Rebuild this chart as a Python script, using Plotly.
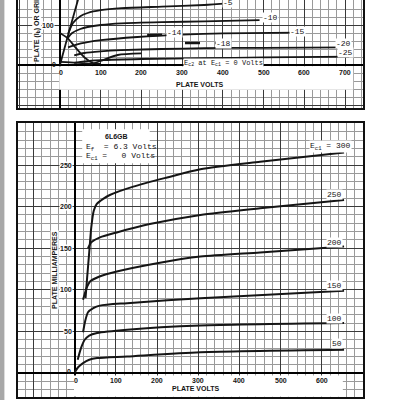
import plotly.graph_objects as go

# ---------------- data: upper panel (plate volts vs plate/screen mA) ----------------
top_ticks_v = [100, 200, 300, 400, 500, 600, 700]
top_ticks_ma = [100]

top_e0_v = [0, 20, 44, 52]
top_e0_ma = [0, 75, 162, 192]
top_m5_v = [20, 32, 50, 68, 100, 151, 250, 354, 413]
top_m5_ma = [78, 105, 122, 130, 137, 142, 146, 150, 154]
top_m10_v = [18, 30, 50, 68, 100, 151, 250, 354, 490]
top_m10_ma = [66, 80, 90, 95, 100, 104, 107, 109, 112]
top_m15_v = [20, 40, 68, 100, 190, 300, 400, 580]
top_m15_ma = [44, 51, 57, 62, 70, 76, 79, 81]
top_m20_v = [35, 60, 100, 150, 250, 354, 500, 710]
top_m20_ma = [24, 30, 34, 37, 40, 42, 43, 44]
top_m25_v = [35, 60, 100, 200, 354, 500, 710]
top_m25_ma = [5, 9, 12, 15, 17, 19, 21]
top_ic2_v = [0, 20, 37, 61, 81, 100]
top_ic2_ma = [80, 66, 45, 18, 5, 3]
top_ic2b_v = [75, 100, 142, 200]
top_ic2b_ma = [2, 10, 25, 29]
top_low_v = [0, 40, 80]
top_low_ma = [8, 6, 3]
top_dash14_v = [214, 270]
top_dash14_ma = [75, 76]
top_dash18_v = [307, 388]
top_dash18_ma = [55, 55]

# ---------------- data: lower panel (6L6GB, Ec1 = 0) ----------------
bot_ticks_v = [100, 200, 300, 400, 500, 600]
bot_ticks_ma = [50, 100, 150, 200, 250]

e300_v = [26, 30, 35, 40, 46, 53, 68, 85, 142, 224, 305, 450, 654]
e300_ma = [90, 115, 145, 175, 195, 203, 209, 214, 224, 235, 245, 254, 265]
e250_v = [32, 40, 61, 102, 182, 305, 450, 654]
e250_ma = [150, 157, 163, 169, 179, 190, 198, 208]
e200_v = [20, 24, 30, 37, 60, 102, 200, 305, 450, 654]
e200_ma = [88, 95, 104, 110, 116, 122, 132, 140, 145, 152]
e150_v = [20, 25, 32, 45, 61, 127, 305, 654]
e150_ma = [49, 62, 73, 78, 81, 84, 90, 99]
e100_v = [7, 15, 24, 35, 54, 127, 305, 654]
e100_ma = [16, 30, 40, 45, 48, 52, 57, 60]
e50_v = [0, 8, 20, 35, 54, 127, 305, 654]
e50_ma = [1, 7, 12, 16, 18, 20, 25, 28]

FONT = "Liberation Sans, Arial"
TYPE = "Liberation Mono, DejaVu Sans Mono, monospace"
INK = "#151515"

fig = go.Figure()

def curve(v, ma, xa, ya, dash=None, width=2.0):
    fig.add_trace(go.Scatter(
        x=v, y=ma, xaxis=xa, yaxis=ya, mode="lines",
        line=dict(color=INK, width=width, shape="spline", smoothing=0.7, dash=dash),
        hoverinfo="skip", showlegend=False))

for v, ma in [(top_e0_v, top_e0_ma), (top_m5_v, top_m5_ma), (top_m10_v, top_m10_ma),
              (top_m15_v, top_m15_ma), (top_m20_v, top_m20_ma), (top_m25_v, top_m25_ma),
              (top_ic2_v, top_ic2_ma), (top_ic2b_v, top_ic2b_ma), (top_low_v, top_low_ma)]:
    curve(v, ma, "x", "y", width=1.8)
curve(top_dash14_v, top_dash14_ma, "x", "y", dash="longdash", width=2.5)
curve(top_dash18_v, top_dash18_ma, "x", "y", dash="longdash", width=2.5)

for v, ma in [(e300_v, e300_ma), (e250_v, e250_ma), (e200_v, e200_ma),
              (e150_v, e150_ma), (e100_v, e100_ma), (e50_v, e50_ma)]:
    curve(v, ma, "x2", "y2", width=2.0)

def axis(domain, rng, dtick, mdtick, anchor, mirror):
    return dict(domain=domain, range=rng, anchor=anchor, dtick=dtick, tick0=0,
                showgrid=True, gridcolor="#3a3a3a", gridwidth=1.1,
                minor=dict(dtick=mdtick, tick0=0, showgrid=True, gridcolor="#9a9a9a", gridwidth=0.8),
                zeroline=True, zerolinecolor="#000", zerolinewidth=2,
                showticklabels=False, ticks="", showline=True, mirror=mirror,
                linecolor="#111", linewidth=1.5, fixedrange=True)

shapes = [
    dict(type="rect", xref="x", yref="y", x0=-2, x1=720, y0=-3, y1=-62,
         fillcolor="white", line=dict(width=0), layer="above"),
    dict(type="rect", xref="x2", yref="y2", x0=-2, x1=651, y0=-3, y1=-28.5,
         fillcolor="white", line=dict(width=0), layer="above"),
    dict(type="rect", xref="x2", yref="y2", x0=18, x1=182, y0=252, y1=293,
         fillcolor="white", line=dict(width=0), layer="above"),
    dict(type="rect", xref="paper", yref="paper", x0=0, x1=0.011, y0=0, y1=1,
         fillcolor="#a8a8a8", line=dict(width=0), layer="above"),
]

ann = []
def text(x, y, s, xa, ya, size=8, xanchor="center", yanchor="middle", font=FONT, bg=None, angle=0):
    d = dict(x=x, y=y, xref=xa, yref=ya, text=s, showarrow=False, xanchor=xanchor,
             yanchor=yanchor, textangle=angle, font=dict(family=font, size=size, color=INK))
    if bg:
        d["bgcolor"] = bg
        d["borderpad"] = 0
    ann.append(d)

# axis titles first so tick labels sit on top of them
text(-58, 6, "<b>PLATE (I<sub>b</sub>) OR GRID No.2 (I<sub>c2</sub>) MILLIAMPERES</b>", "x", "y",
     size=7, angle=-90, yanchor="bottom", bg="white")
text(-48, 124, "<b>PLATE MILLIAMPERES</b>", "x2", "y2", size=7, angle=-90, bg="white")
text(344, -47.5, "<b>PLATE VOLTS</b>", "x", "y", size=7)
text(294, -18.5, "<b>PLATE VOLTS</b>", "x2", "y2", size=7)

# upper panel tick labels
for t in top_ticks_v:
    text(t, -17.5, f"<b>{t}</b>", "x", "y", size=7)
text(3, -17.5, "<b>0</b>", "x", "y", size=7)
for t in top_ticks_ma:
    text(-11, t, f"<b>{t}</b>", "x", "y", size=7, xanchor="right", bg="white")
text(-4, 1, "<b>0</b>", "x", "y", size=7, xanchor="right")
for s, x, y in [("-5", 413, 157), ("-10", 516, 120), ("-14", 280, 82), ("-15", 584, 84),
                ("-18", 402, 55), ("-20", 697, 55), ("-25", 700, 32)]:
    text(x, y, s, "x", "y", size=8, font=TYPE, bg="white")
text(302, 5, "E<sub>c2</sub> at E<sub>c1</sub> = 0 Volts", "x", "y", size=7, font=TYPE,
     xanchor="left", bg="white")

# lower panel tick labels
for t in bot_ticks_v:
    text(t, -8.5, f"<b>{t}</b>", "x2", "y2", size=7)
text(3, -8.5, "<b>0</b>", "x2", "y2", size=7)
for t in bot_ticks_ma:
    text(-4, t, f"<b>{t}</b>", "x2", "y2", size=7, xanchor="right", bg="white")
text(-4, 1.5, "<b>0</b>", "x2", "y2", size=7, xanchor="right")
text(102, 284, "<b>6L6GB</b>", "x2", "y2", size=7)
text(22, 271, "E<sub>f</sub>  = 6.3 Volts", "x2", "y2", size=8, font=TYPE, xanchor="left")
text(22, 260, "E<sub>c1</sub> =   0 Volts", "x2", "y2", size=8, font=TYPE, xanchor="left")
text(620, 272, "E<sub>c1</sub> = 300", "x2", "y2", size=8, font=TYPE, bg="white")
for s, y in [("250", 214), ("200", 157), ("150", 105), ("100", 65), ("50", 35)]:
    text(630 if s != "50" else 638, y, s, "x2", "y2", size=8, font=TYPE, bg="white")

fig.update_layout(
    width=400, height=400, autosize=False,
    margin=dict(l=0, r=0, t=0, b=0, pad=0),
    paper_bgcolor="white", plot_bgcolor="white",
    showlegend=False,
    xaxis=axis([0.045, 0.9075], [-103, 744], 100, 20, "y", False),
    yaxis=axis([0.73, 1.0], [-107.5, 162.5], 100, 20, "x", True),
    xaxis2=axis([0.045, 0.9075], [-138, 700], 100, 20, "y2", True),
    yaxis2=axis([0.0075, 0.6925], [-28.8, 300.5], 50, 10, "x2", True),
    shapes=shapes, annotations=ann,
)

fig.write_html("out.html")
